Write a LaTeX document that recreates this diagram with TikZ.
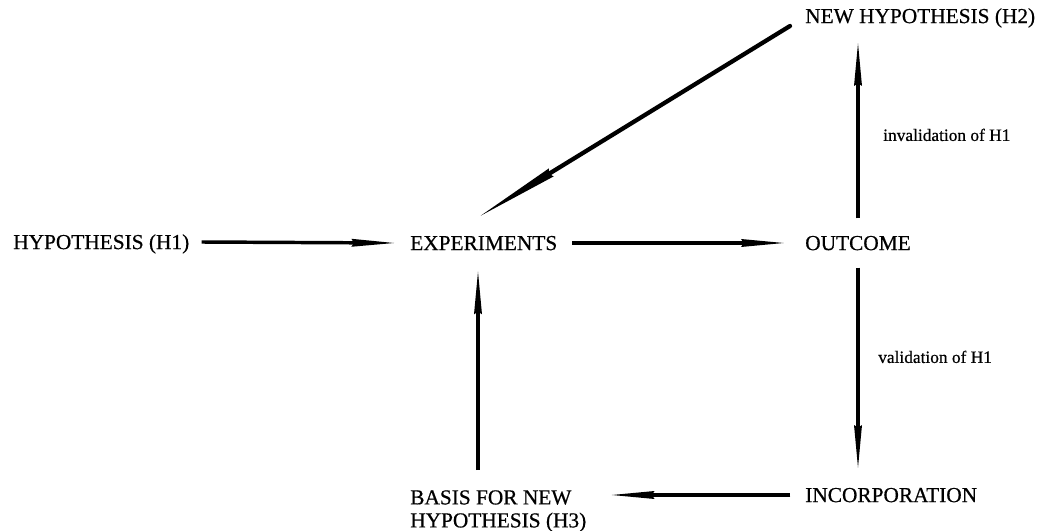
\documentclass[tikz,border=0pt]{standalone}
\usepackage{fontspec}
\setmainfont{Liberation Serif}[BoldFont=Liberation Serif,BoldFeatures={FakeBold=0.6}]
\usetikzlibrary{arrows.meta}
\tikzset{
  stage/.style  = {anchor=west,inner sep=0pt,font=\fontsize{16}{17.25}\selectfont\bfseries,
                   text height=10.6pt,text depth=0pt},
  twoline/.style= {anchor=north west,inner sep=0pt,align=left,
                   font=\fontsize{16}{17.25}\selectfont\bfseries},
  remark/.style = {anchor=west,inner sep=0pt,font=\fontsize{13}{15}\selectfont\bfseries,
                   text height=8.9pt,text depth=0pt},
  flow/.style   = {-{Stealth[length=32pt,width=6pt,inset=2pt,line width=0pt]},line width=2.6pt},
  slant/.style  = {-{Stealth[length=62pt,width=7pt,inset=2pt,line width=0pt]},
                   line width=3.2pt,line cap=round}
}
\begin{document}
\begin{tikzpicture}[x=0.75pt,y=-0.75pt]
  \useasboundingbox (0,0) rectangle (1051,531);
  % stages of the cycle
  \node[stage] (h1)  at (13,242)  {HYPOTHESIS (H1)};
  \node[stage] (exp) at (410,243) {EXPERIMENTS};
  \node[stage] (out) at (805,243) {OUTCOME};
  \node[stage] (h2)  at (805,16)  {NEW HYPOTHESIS (H2)};
  \node[stage] (inc) at (805,495) {INCORPORATION};
  \node[twoline] (h3) at (410,490) {BASIS FOR NEW\\HYPOTHESIS (H3)};
  \node[remark] (inv) at (883,135) {invalidation of H1};
  \node[remark] (val) at (878,357) {validation of H1};
  % arrows
  \draw[flow] ([xshift=9pt]h1.east) -- ([xshift=-12pt]exp.west);
  \draw[flow] ([xshift=11pt]exp.east) -- ([xshift=-16pt]out.west);
  \draw[flow] ([yshift=13pt]out.north) -- ([yshift=-15pt]out.north |- h2.south);
  \draw[flow] ([yshift=-13pt]out.south) -- ([yshift=15pt]out.south |- inc.north);
  \draw[flow] ([xshift=-11pt]inc.west) -- ([xshift=19pt]h3.north east |- inc.west);
  \draw[flow] ([xshift=51pt,yshift=15pt]h3.north west) -- ([xshift=51pt,yshift=-16pt]exp.south west);
  \draw[slant] ([shift={(-15,10)}]h2.west) -- ([shift={(-3,-20)}]exp.north);
\end{tikzpicture}
\end{document}
